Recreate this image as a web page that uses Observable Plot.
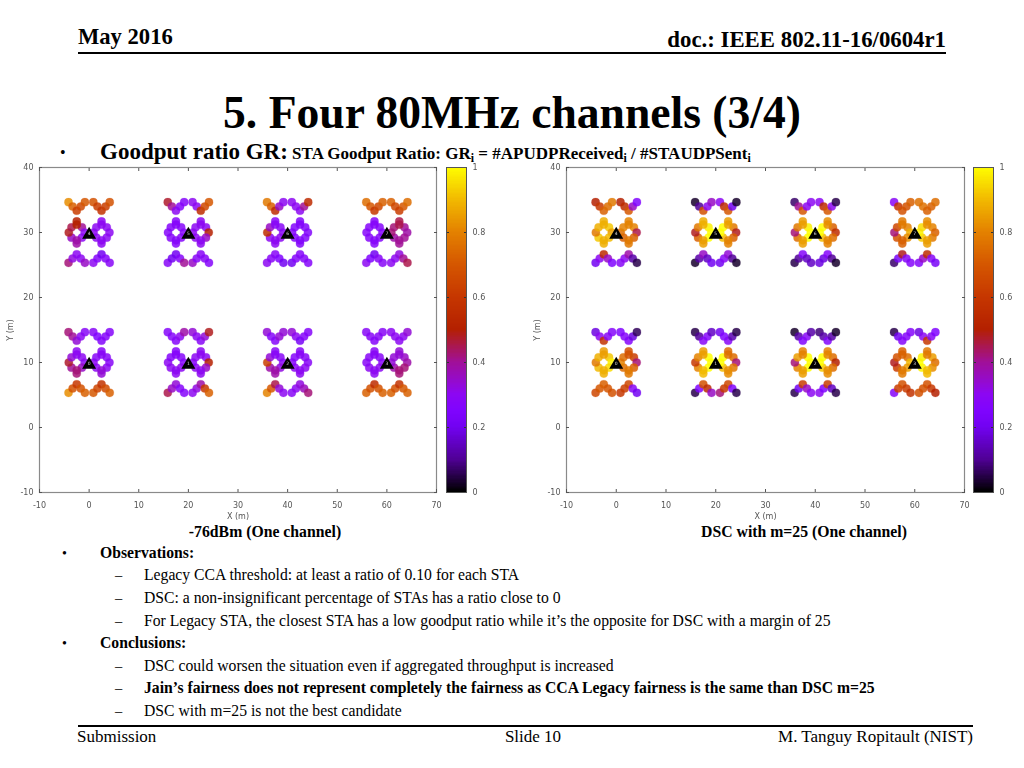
<!DOCTYPE html>
<html><head><meta charset="utf-8">
<script src="https://cdn.jsdelivr.net/npm/d3@7"></script>
<script src="https://cdn.jsdelivr.net/npm/@observablehq/plot@0.6"></script>
<style>
html,body{margin:0;padding:0;background:#fff}
#page{position:relative;width:1024px;height:768px;overflow:hidden;font-family:"Liberation Serif",serif;color:#000}
.t{position:absolute;white-space:nowrap;line-height:1}
.b{font-weight:bold}
.r{position:absolute;background:#000}
#page svg{position:absolute;overflow:visible;filter:blur(.45px)}
sub{font-size:.7em;line-height:0;vertical-align:-0.25em}
</style></head><body><div id="page"></div>
<script>
// Colour scale of the colour bar
const ratioStops = [0,.1,.2,.25,.3,.4,.5,.6,.7,.8,.9,1];
const ratioColors = ["#000000","#500096","#7202f2","#8004ff","#8c07f2","#a11096","#b42000","#c63700","#d55700","#e48200","#f2ba00","#ffff00"];

// Access points (metres) and their labels
const apX = [0,20,40,60,0,20,40,60];
const apY = [30,30,30,30,10,10,10,10];
const apLabels = ["4","5","6","7","0","1","2","3"];

// Station offsets from the AP (metres), in the order of the values below
const staDx = [-4.15,-3.32,-2.5,-1.68,-.85,  .85,1.68,2.5,3.32,4.15,
  -2.5,-1.45,-.9,-1.45,-2.5,-3.55,-4.1,-3.55,  2.5,3.55,4.1,3.55,2.5,1.45,.9,1.45,
  -4.15,-3.32,-2.5,-1.68,-.85,  .85,1.68,2.5,3.32,4.15];
const staDy = [4.66,4,3.35,4,4.66,  4.66,4,3.35,4,4.66,
  1.7,.8,0,-.8,-1.7,-.8,0,.8,  1.7,.8,0,-.8,-1.7,-.8,0,.8,
  -4.66,-4,-3.35,-4,-4.66,  -4.66,-4,-3.35,-4,-4.66];
// Inner station next to each diamond's top and bottom one, sharing its list entry
const innerOf = [10,14,18,22];
const innerDy = [1.2,-1.2,1.2,-1.2];

// Goodput ratio per station, one list per AP: -76dBm
const legacyRatios = [
 [.82,.72,.62,.65,.7, .68,.62,.58,.62,.68, .5,.4,.3,.3,.38,.35,.48,.45, .3,.3,.3,.3,.3,.3,.3,.3, .42,.32,.3,.3,.35, .3,.27,.2,.27,.28],
 [.47,.4,.3,.27,.27, .3,.3,.55,.65,.7, .27,.27,.27,.27,.27,.27,.27,.27, .3,.3,.5,.35,.3,.3,.3,.3, .28,.2,.2,.27,.4, .35,.28,.28,.28,.27],
 [.78,.72,.55,.35,.3, .3,.3,.3,.4,.55, .28,.28,.28,.3,.3,.3,.55,.35, .26,.26,.26,.26,.26,.26,.26,.26, .3,.28,.28,.25,.2, .2,.27,.27,.27,.27],
 [.75,.7,.6,.65,.72, .72,.65,.62,.7,.75, .27,.27,.27,.27,.27,.27,.27,.27, .45,.4,.38,.4,.4,.38,.42,.42, .3,.25,.2,.28,.28, .3,.3,.32,.4,.45],
 [.42,.4,.33,.3,.28, .28,.25,.26,.27,.27, .3,.3,.3,.35,.42,.4,.47,.33, .28,.28,.28,.3,.33,.3,.3,.28, .82,.68,.6,.68,.72, .7,.65,.58,.66,.72],
 [.27,.27,.27,.3,.38, .33,.3,.28,.33,.48, .27,.27,.27,.3,.3,.3,.3,.27, .3,.3,.5,.35,.3,.3,.27,.3, .45,.35,.33,.27,.27, .3,.32,.38,.6,.72],
 [.33,.27,.27,.33,.33, .33,.3,.22,.27,.27, .28,.28,.28,.32,.38,.38,.62,.33, .28,.28,.28,.3,.3,.3,.27,.27, .8,.7,.45,.33,.3, .28,.3,.32,.36,.42],
 [.28,.28,.27,.28,.28, .3,.3,.3,.3,.33, .28,.28,.28,.3,.3,.3,.28,.28, .33,.35,.38,.42,.42,.38,.33,.33, .72,.68,.55,.68,.72, .72,.68,.58,.7,.72]
];
// Goodput ratio per station, one list per AP: DSC with m=25
const dscRatios = [
 [.5,.6,.72,.75,.78, .5,.55,.7,.35,.25, .88,.92,.85,.9,.88,.92,.78,.88, .8,.8,.45,.72,.78,.72,.75,.8, .2,.3,.55,.35,.25, .28,.3,.38,.12,.05],
 [.03,.1,.68,.3,.35, .3,.55,.7,.2,.03, .88,.98,1,1,.85,.72,.48,.78, .85,.78,.48,.72,.8,.9,1,1, .03,.12,.35,.15,.2, .2,.28,.33,.1,.03],
 [.07,.4,.7,.3,.3, .3,.55,.7,.3,.05, .85,.98,1,1,.85,.75,.42,.78, .82,.72,.55,.75,.8,.9,1,1, .05,.1,.27,.15,.15, .18,.18,.27,.1,.03],
 [.28,.58,.68,.68,.72, .76,.76,.72,.72,.75, .78,.8,.88,.82,.72,.68,.42,.65, .82,.8,.72,.78,.85,.92,.98,.95, .07,.22,.48,.27,.27, .27,.35,.55,.28,.22],
 [.18,.3,.58,.28,.27, .25,.27,.27,.18,.06, .85,.92,.98,.95,.88,.9,.78,.88, .68,.62,.42,.72,.78,.75,.8,.75, .65,.7,.72,.7,.68, .6,.62,.65,.28,.2],
 [.05,.1,.28,.27,.15, .2,.25,.28,.13,.05, .85,1,1,1,.9,.8,.6,.8, .75,.75,.42,.78,.82,.9,1,1, .05,.25,.68,.55,.35, .42,.6,.65,.25,.05],
 [.03,.12,.25,.28,.12, .08,.12,.26,.12,.03, .8,1,1,1,.85,.8,.42,.85, .8,.75,.5,.75,.82,.92,1,1, .05,.2,.62,.35,.3, .3,.25,.62,.15,.05],
 [.05,.2,.27,.27,.27, .18,.3,.6,.28,.25, .72,.75,.9,.85,.78,.62,.48,.68, .78,.85,.75,.82,.9,.98,1,.98, .27,.62,.68,.62,.58, .68,.68,.68,.6,.5]
];

const xTicks = [-10,0,10,20,30,40,50,60,70];
const yTicks = [-10,0,10,20,30,40];
const barTicks = [0,.2,.4,.6,.8,1];
const barSteps = d3.range(0,1,.004);

const page = document.getElementById("page");
const font = "DejaVu Sans";
const axisColor = "#555", frameColor = "#8a8a8a";
const color = {type:"linear", domain:ratioStops, range:ratioColors};
const plain = d => String(d);

function panel(ratios, left, top, frameW, frameH, barGap){
  const stations = ratios.flatMap((list,a)=>[
    ...list.map((v,i)=>({x:apX[a]+staDx[i], y:apY[a]+staDy[i], v})),
    ...innerOf.map((k,j)=>({x:apX[a]+staDx[k], y:apY[a]+innerDy[j], v:list[k]}))
  ]);
  const aps = apX.map((x,i)=>({x, y:apY[i], label:apLabels[i]}));
  const mL=39, mT=10, mR=14, mB=35;
  const fig = Plot.plot({
    width:mL+frameW+mR, height:mT+frameH+mB,
    marginLeft:mL, marginTop:mT, marginRight:mR, marginBottom:mB,
    x:{domain:[-10,70]}, y:{domain:[-10,40]}, color,
    style:{background:"transparent", fontFamily:font, fontSize:"8px", color:axisColor},
    marks:[
      Plot.frame({stroke:frameColor, strokeWidth:1.2}),
      Plot.axisX({anchor:"top", ticks:xTicks, tickSize:-3, tickFormat:()=>"", label:null, stroke:axisColor}),
      Plot.axisY({anchor:"right", ticks:yTicks, tickSize:-3, tickFormat:()=>"", label:null, stroke:axisColor}),
      Plot.axisX({anchor:"bottom", ticks:xTicks, tickSize:-3, tickPadding:13, tickFormat:plain, label:"X (m)", labelAnchor:"center", labelArrow:"none", labelOffset:26, stroke:axisColor, fill:axisColor}),
      Plot.axisY({anchor:"left", ticks:yTicks, tickSize:-3, tickPadding:9, tickFormat:plain, label:"Y (m)", labelAnchor:"center", labelArrow:"none", labelOffset:32, stroke:axisColor, fill:axisColor}),
      Plot.dot(stations,{x:"x",y:"y",r:4.1,fill:"v",fillOpacity:.85,stroke:"v",strokeOpacity:.4,strokeWidth:.5}),
      Plot.dot(aps,{x:"x",y:"y",r:5.2,symbol:"triangle",fill:"black",dy:2.3}),
      Plot.text(aps,{x:"x",y:"y",text:"label",fill:"#ddd",fontSize:4.5,dy:1.5})
    ]
  });
  fig.style.left=left+"px"; fig.style.top=(top-mT)+"px";
  page.appendChild(fig);

  const barFig = Plot.plot({
    width:60, height:mT+frameH+mB,
    marginLeft:6, marginRight:34, marginTop:mT, marginBottom:mB,
    x:{domain:[0,1], axis:null}, y:{domain:[0,1]}, color,
    style:{background:"transparent", fontFamily:font, fontSize:"8px", color:axisColor},
    marks:[
      Plot.rect(barSteps,{x1:()=>0,x2:()=>1,y1:d=>d,y2:d=>Math.min(1,d+.008),fill:d=>d,inset:0,shapeRendering:"crispEdges"}),
      Plot.axisY({anchor:"left", ticks:barTicks, tickSize:-3, tickFormat:()=>"", label:null, stroke:"#333"}),
      Plot.axisY({anchor:"right", ticks:barTicks, tickSize:-3, tickPadding:9, tickFormat:plain, label:null, stroke:"#333", fill:axisColor, textAnchor:"start"}),
      Plot.frame({stroke:"#555", strokeWidth:1})
    ]
  });
  barFig.style.left=(left+mL+frameW+barGap-6)+"px"; barFig.style.top=(top-mT)+"px";
  page.appendChild(barFig);
}
panel(legacyRatios, 0, 167, 397, 325, 10);
panel(dscRatios, 527, 166.5, 398, 325, 9);

function text(html, x, y, size, opt={}){
  const d=document.createElement("div");
  d.className="t"+(opt.bold?" b":"");
  d.innerHTML=html;
  d.style.fontSize=size+"px";
  d.style.top=(y-size*.89)+"px";
  if(opt.anchor==="end"){d.style.right=(1024-x)+"px";}
  else if(opt.anchor==="middle"){d.style.left=x+"px";d.style.transform="translateX(-50%)";}
  else d.style.left=x+"px";
  page.appendChild(d);
}
function rule(x1,x2,y,h){
  const d=document.createElement("div");d.className="r";
  d.style.cssText=`left:${x1}px;top:${y}px;width:${x2-x1}px;height:${h}px`;
  page.appendChild(d);
}
rule(78,946,52,2); rule(78,973,725,2);
text("May 2016",78,46,22.6,{bold:true});
text("doc.: IEEE 802.11-16/0604r1",946,49,22.8,{bold:true,anchor:"end"});
text("5. Four 80MHz channels (3/4)",512,131,45.6,{bold:true,anchor:"middle"});
text("•",60,159,16);
text('<span style="font-size:23px">Goodput ratio GR:</span> STA Goodput Ratio: GR<sub>i</sub> = #APUDPReceived<sub>i</sub> / #STAUDPSent<sub>i</sub>',100,155,17,{bold:true});
text("-76dBm (One channel)",265,538,15.75,{bold:true,anchor:"middle"});
text("DSC with m=25 (One channel)",804,538,15.75,{bold:true,anchor:"middle"});
const bullets=[["Observations:",559,0],["Legacy CCA threshold: at least a ratio of 0.10 for each STA",581,1],["DSC: a non-insignificant percentage of STAs has a ratio close to 0",604,1],["For Legacy STA, the closest STA has a low goodput ratio while it’s the opposite for DSC with a margin of 25",627,1],["Conclusions:",649,0],["DSC could worsen the situation even if aggregated throughput is increased",672,1],["Jain’s fairness does not represent completely the fairness as CCA Legacy fairness is the same than DSC m=25",694,2],["DSC with m=25 is not the best candidate",717,1]];
for(const [s,y,k] of bullets){
  if(k===0){text("•",62,y,14);text(s,100,y,15.7,{bold:true});}
  else{text("–",115,y,14.5);text(s,144,y,15.7,{bold:k===2});}
}
text("Submission",77,743,17);
text("Slide 10",533,743,17,{anchor:"middle"});
text("M. Tanguy Ropitault (NIST)",973,743,17,{anchor:"end"});
</script></body></html>
